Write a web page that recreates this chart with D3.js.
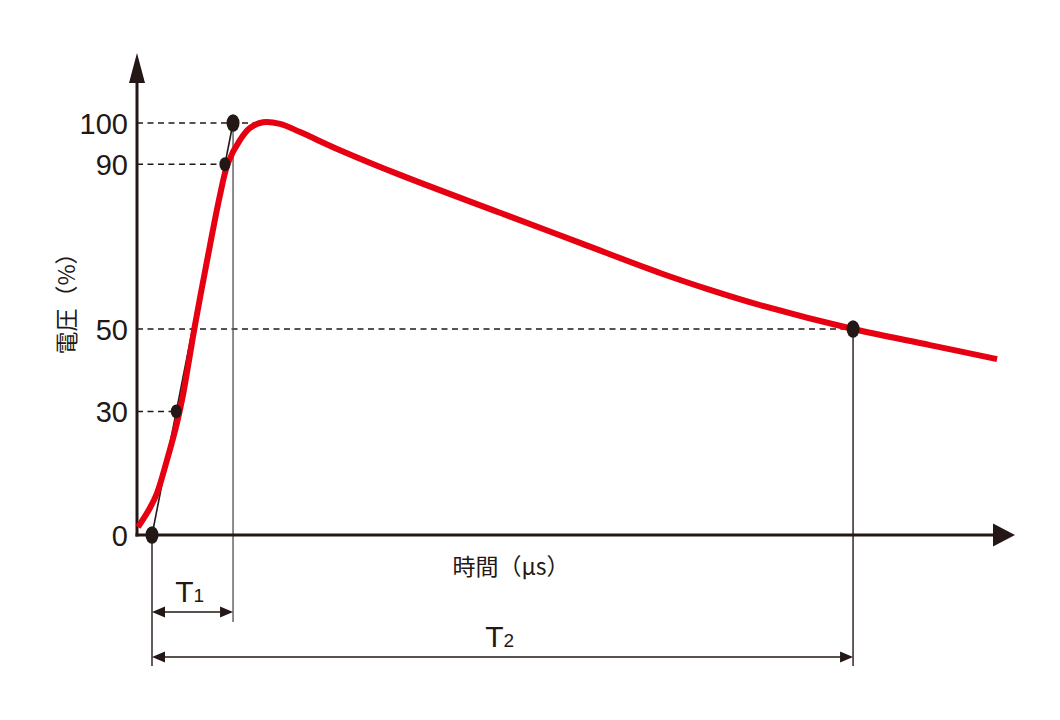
<!DOCTYPE html>
<html><head><meta charset="utf-8">
<script src="https://cdn.jsdelivr.net/npm/d3@7/dist/d3.min.js"></script>
<style>
html,body{margin:0;padding:0;background:#fff;}
svg{display:block;}
</style></head>
<body>
<svg id="chart" width="1060" height="720"></svg>
<script>
// ---- data ----
const tickValues = [0, 30, 50, 90, 100];
const tickLabels = ["0", "30", "50", "90", "100"];
// impulse voltage waveform (time in schematic µs units, voltage in %)
const waveT = [-1.0, -0.14, 0.36, 1.07, 1.78, 2.21, 3.07, 4.14, 4.85, 5.42, 6.28, 6.99, 7.92, 9.13, 10.56, 13.41, 17.69, 24.82, 30.53, 36.23, 39.80, 43.37, 50.0, 55.49, 60.27];
const waveV = [1.9, 6.6, 10.2, 18.2, 27.2, 34.0, 51.0, 70.4, 82.5, 90.3, 95.9, 98.8, 100.2, 99.8, 97.8, 93.4, 87.4, 78.2, 70.9, 63.6, 59.5, 55.8, 50.0, 46.1, 42.7];
// characteristic points
const markerT = [0, 1.73, 5.20, 5.78, 50];
const markerV = [0, 30, 90, 100, 50];
const markerBig = [true, false, false, true, true];
// dashed guide ends (time) for each level
const guideLevels = [30, 90, 100, 50];
const guideEndT = [1.73, 5.20, 7.3, 50];
// durations
const T1 = 5.78, T2 = 50;
const xTitle = "時間（\u03BCs）";
const yTitle = "電圧（%）";

// ---- layout ----
const svg = d3.select("#chart");
const ink = "#231815", red = "#e60012", grey = "#5a5757";
const x = d3.scaleLinear().domain([-1.07, 61.55]).range([137, 1015]);
const y = d3.scaleLinear().domain([0, 100]).range([535, 123]);
const x0 = x(-1.07), y0 = y(0);
const latin = "'Liberation Sans', Arial, sans-serif";

// dashed guides
guideLevels.forEach((lv, i) => {
  svg.append("line")
    .attr("x1", x0).attr("x2", x(guideEndT[i]))
    .attr("y1", y(lv)).attr("y2", y(lv))
    .attr("stroke", ink).attr("stroke-width", 1.5)
    .attr("stroke-dasharray", "6,4.5");
});

// vertical reference lines
const vLines = [[0, 0, 666], [T1, 100, 622], [T2, 50, 666]];
vLines.forEach(([t, v, yb]) => {
  svg.append("line")
    .attr("x1", x(t)).attr("x2", x(t))
    .attr("y1", y(v)).attr("y2", yb)
    .attr("stroke", t === T1 ? grey : ink).attr("stroke-width", 1.4);
});

// axes lines with arrows
svg.append("line").attr("x1", x0).attr("x2", x0).attr("y1", y0 + 1.5).attr("y2", 80)
  .attr("stroke", ink).attr("stroke-width", 3);
svg.append("path").attr("d", `M${x0},53 L${x0 - 8},83 L${x0 + 8},83 Z`).attr("fill", ink);
svg.append("line").attr("x1", x0 - 1.5).attr("x2", 995).attr("y1", y0).attr("y2", y0)
  .attr("stroke", ink).attr("stroke-width", 3);
svg.append("path").attr("d", `M1015,${y0} L993,${y0 - 11.5} L993,${y0 + 11.5} Z`).attr("fill", ink);

// y tick labels through d3 axis
const yAxis = d3.axisLeft(y).tickValues(tickValues).tickSize(0).tickPadding(9)
  .tickFormat((d, i) => tickLabels[i]);
const gy = svg.append("g").attr("transform", `translate(${x0},0)`).call(yAxis);
gy.select(".domain").remove();
gy.selectAll("text")
  .attr("font-family", latin)
  .attr("font-size", 29).attr("fill", ink).attr("dy", "0.36em");

// rising front line (virtual front through 30% & 90%)
svg.append("line")
  .attr("x1", x(markerT[0])).attr("y1", y(markerV[0]))
  .attr("x2", x(markerT[3])).attr("y2", y(markerV[3]))
  .attr("stroke", ink).attr("stroke-width", 1.6);

// waveform
const line = d3.line().x((d, i) => x(waveT[i])).y((d, i) => y(waveV[i])).curve(d3.curveCatmullRom.alpha(0.5));
svg.append("path").datum(waveT).attr("d", line)
  .attr("fill", "none").attr("stroke", red).attr("stroke-width", 6)
  .attr("stroke-linecap", "butt").attr("stroke-linejoin", "round");

// markers
markerT.forEach((t, i) => {
  svg.append("ellipse")
    .attr("cx", x(t)).attr("cy", y(markerV[i]))
    .attr("rx", markerBig[i] ? 6.5 : 5.5).attr("ry", markerBig[i] ? 8.8 : 7)
    .attr("fill", ink);
});

// dimension arrows
function dim(t0, t1, yy, label) {
  const a = x(t0), b = x(t1);
  svg.append("line").attr("x1", a + 4).attr("x2", b - 4).attr("y1", yy).attr("y2", yy)
    .attr("stroke", ink).attr("stroke-width", 1.4);
  svg.append("path").attr("d", `M${a},${yy} L${a + 13},${yy - 5.5} L${a + 13},${yy + 5.5} Z`).attr("fill", ink);
  svg.append("path").attr("d", `M${b},${yy} L${b - 13},${yy - 5.5} L${b - 13},${yy + 5.5} Z`).attr("fill", ink);
  const cx = (a + b) / 2;
  svg.append("text").attr("x", cx + 1).attr("y", yy - 10)
    .attr("text-anchor", "end").attr("fill", ink)
    .attr("font-family", latin).attr("font-size", 30).text("T");
  svg.append("text").attr("x", cx + 1).attr("y", yy - 10)
    .attr("text-anchor", "start").attr("fill", ink)
    .attr("font-family", latin).attr("font-size", 19).text(label);
}
dim(0, T1, 612, "1");
dim(0, T2, 657, "2");

// axis titles
svg.append("text").attr("x", 511).attr("y", 567).attr("dy", "0.35em")
  .attr("text-anchor", "middle").attr("fill", ink)
  .attr("font-family", "'Noto Sans CJK JP', sans-serif").attr("font-size", 23)
  .text(xTitle);
svg.append("text").attr("transform", "translate(67,298) rotate(-90)").attr("dy", "0.35em")
  .attr("text-anchor", "middle").attr("fill", ink)
  .attr("font-family", "'Noto Sans CJK JP', sans-serif").attr("font-size", 23)
  .text(yTitle);
</script>
</body></html>
